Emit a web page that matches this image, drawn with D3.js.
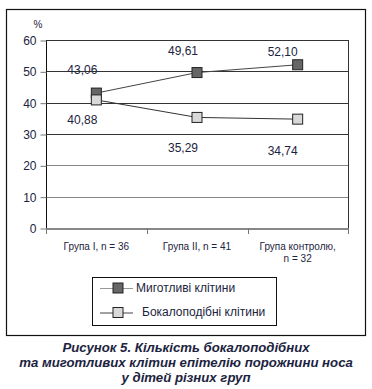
<!DOCTYPE html>
<html>
<head>
<meta charset="utf-8">
<script src="https://cdn.jsdelivr.net/npm/d3@7"></script>
<style>
  body { margin: 0; background: #fff; }
  svg { display: block; font-family: "Liberation Sans", Arial, sans-serif; }
</style>
</head>
<body>
<div id="chart"></div>
<script>
// data
const groups = ["Група I, n = 36", "Група II, n = 41", "Група контролю,\nn = 32"];
const ciliated = [43.06, 49.61, 52.10];
const goblet = [40.88, 35.29, 34.74];
const yTicks = [0, 10, 20, 30, 40, 50, 60];
const seriesNames = ["Миготливі клітини", "Бокалоподібні клітини"];

const width = 372, height = 389;
const ink = "#1c2340";

const svg = d3.select("#chart").append("svg")
  .attr("width", width)
  .attr("height", height);

// outer frame
svg.append("rect")
  .attr("x", 6.5).attr("y", 9.5)
  .attr("width", 359).attr("height", 326)
  .attr("fill", "none").attr("stroke", "#111").attr("stroke-width", 1.2);

const x = d3.scaleBand().domain(groups).range([46, 348]);
const y = d3.scaleLinear().domain([0, 60]).range([228, 40]);

// gridlines
svg.append("g").selectAll("line")
  .data(yTicks.filter(d => d > 0))
  .join("line")
  .attr("x1", 46).attr("x2", 348)
  .attr("y1", d => Math.round(y(d)) + 0.5).attr("y2", d => Math.round(y(d)) + 0.5)
  .attr("stroke", d => d >= 30 ? "#333" : "#888")
  .attr("stroke-width", 1);

// plot frame (left + right)
svg.append("line").attr("x1", 46.5).attr("x2", 46.5).attr("y1", 40).attr("y2", 228).attr("stroke", "#111");
svg.append("line").attr("x1", 348.5).attr("x2", 348.5).attr("y1", 40).attr("y2", 228).attr("stroke", "#333");

// y axis
const yAxis = svg.append("g")
  .attr("transform", "translate(46.5,0.5)")
  .call(d3.axisLeft(y).tickValues(yTicks).tickSize(6).tickSizeOuter(0).tickPadding(4));
yAxis.select(".domain").remove();
yAxis.selectAll(".tick line").attr("stroke", "#777");
yAxis.selectAll("text").attr("fill", ink).style("font-size", "12px").style("font-family", "Liberation Sans, Arial, sans-serif");

svg.append("text").attr("x", 38).attr("y", 28).attr("text-anchor", "middle")
  .attr("fill", ink).style("font-size", "10px").text("%");

// x axis
const xAxis = svg.append("g")
  .attr("transform", "translate(0,228.5)")
  .call(d3.axisBottom(x).tickSize(0).tickFormat(""));
xAxis.select(".domain").attr("stroke", "#111");
svg.append("g").selectAll("line")
  .data([46, 147, 248, 348])
  .join("line")
  .attr("x1", d => d + 0.5).attr("x2", d => d + 0.5)
  .attr("y1", 228).attr("y2", 234)
  .attr("stroke", "#777");

groups.forEach(g => {
  const t = svg.append("text")
    .attr("text-anchor", "middle")
    .attr("fill", ink)
    .style("font-size", "10px");
  g.split("\n").forEach((line, i) => {
    t.append("tspan").attr("x", x(g) + x.bandwidth() / 2).attr("y", 250 + i * 11.5).text(line);
  });
});

const cx = d => x(d) + x.bandwidth() / 2;
const lineGen = d3.line().x(d => cx(d.g)).y(d => y(d.v));

const series = [
  { name: seriesNames[0], values: ciliated, fill: "#666", lineColor: "#444" },
  { name: seriesNames[1], values: goblet, fill: "#d9d9d9", lineColor: "#333" }
];

// dark series first so the light one's first marker sits on top
series.forEach(s => {
  const pts = s.values.map((v, i) => ({ g: groups[i], v }));
  svg.append("path")
    .datum(pts)
    .attr("d", lineGen)
    .attr("fill", "none")
    .attr("stroke", s.lineColor)
    .attr("stroke-width", 1);
  svg.append("g").selectAll("rect")
    .data(pts)
    .join("rect")
    .attr("x", d => cx(d.g) - 5)
    .attr("y", d => y(d.v) - 5)
    .attr("width", 10).attr("height", 10)
    .attr("fill", s.fill)
    .attr("stroke", "#222")
    .attr("stroke-width", 1);
});

// value labels
const fmt = v => v.toFixed(2).replace(".", ",");
const labelPos = [
  [[-14, -22], [-14, -21], [-15, -12]],
  [[-14, 21], [-14, 31], [-15, 33]]
];
[ciliated, goblet].forEach((vals, si) => {
  vals.forEach((v, i) => {
    svg.append("text")
      .attr("x", cx(groups[i]) + labelPos[si][i][0])
      .attr("y", y(v) + labelPos[si][i][1])
      .attr("text-anchor", "middle")
      .attr("dominant-baseline", "middle")
      .attr("fill", ink)
      .style("font-size", "12px")
      .text(fmt(v));
  });
});

// legend
svg.append("rect")
  .attr("x", 92.5).attr("y", 277.5)
  .attr("width", 184).attr("height", 48)
  .attr("fill", "none").attr("stroke", "#111").attr("stroke-width", 1);

series.forEach((s, i) => {
  const ly = 288 + i * 24.5;
  svg.append("line").attr("x1", 100).attr("x2", 133).attr("y1", ly + 0.5).attr("y2", ly + 0.5)
    .attr("stroke", i === 0 ? "#999" : "#444");
  svg.append("rect").attr("x", 113).attr("y", ly - 5).attr("width", 10).attr("height", 10)
    .attr("fill", s.fill).attr("stroke", "#222");
  svg.append("text").attr("x", i === 0 ? 136 : 142).attr("y", ly + 0.5)
    .attr("dominant-baseline", "middle")
    .attr("fill", ink).style("font-size", "12px")
    .text(s.name);
});

// caption
const caption = ["Рисунок 5. Кількість бокалоподібних", "та миготливих клітин епітелію порожнини носа", "у дітей різних груп"];
caption.forEach((c, i) => {
  svg.append("text")
    .attr("x", 186).attr("y", 352 + i * 15)
    .attr("text-anchor", "middle")
    .attr("fill", ink)
    .style("font-size", "13.2px")
    .style("font-weight", "bold")
    .style("font-style", "italic")
    .text(c);
});
</script>
</body>
</html>
